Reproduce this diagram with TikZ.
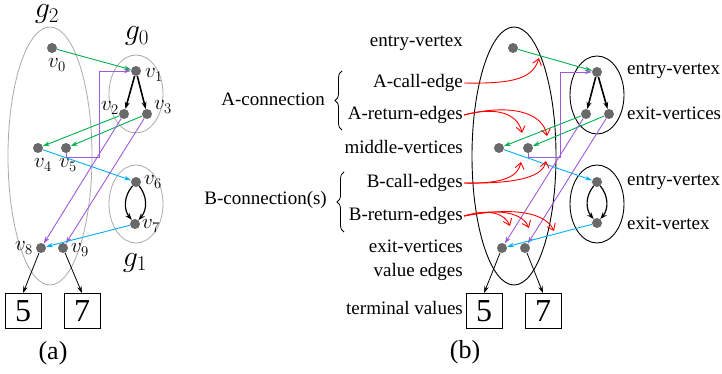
\RequirePackage{fix-cm}
\documentclass[tikz,border=0pt]{standalone}
\usepackage{fontspec}
\setmainfont{Liberation Serif}
\usetikzlibrary{arrows.meta,decorations.pathreplacing}
\definecolor{cgreen}{RGB}{0,176,80}
\definecolor{ccyan}{RGB}{0,176,240}
\definecolor{cpurple}{RGB}{160,90,220}
\definecolor{cdot}{RGB}{105,105,105}
\definecolor{cgray}{RGB}{170,170,170}
\begin{document}
\begin{tikzpicture}[x=1pt,y=-1pt,
  dot/.style={circle,fill=cdot,inner sep=0pt,minimum size=10pt},
  vl/.style={font=\fontsize{21}{23}\selectfont,inner sep=0pt},
  gl/.style={font=\fontsize{30}{32}\selectfont,inner sep=0pt,anchor=base},
  lbl/.style={font=\fontsize{19}{22}\selectfont,inner sep=0pt},
  term/.style={draw,line width=0.8pt,minimum width=36pt,minimum height=35pt,inner sep=0pt,font=\fontsize{32}{34}\selectfont},
  grn/.style={draw=cgreen,line width=0.9pt,-{Stealth[length=7pt,width=4.5pt]}},
  cyn/.style={draw=ccyan,line width=0.9pt,-{Stealth[length=7pt,width=4.5pt]}},
  prp/.style={draw=cpurple,line width=0.9pt,-{Stealth[length=7pt,width=4.5pt]}},
  blk/.style={draw=black,line width=1.6pt,-{Stealth[length=7pt,width=5pt]}},
  val/.style={draw=black,line width=0.8pt,-{Stealth[length=7pt,width=4.5pt]}},
  rd/.style={draw=red,line width=0.9pt,-{Straight Barb[length=6pt,width=9pt]}},
  gell/.style={draw=cgray,line width=0.8pt},
  bell/.style={draw=black,line width=0.9pt},
  brc/.style={decorate,decoration={brace,amplitude=7pt},line width=0.8pt}
]
\useasboundingbox (0,0) rectangle (722,374);

% ---------------- (a) ----------------
\draw[gell] (50,156) ellipse [x radius=42, y radius=129];
\draw[gell] (136,94) ellipse [x radius=27, y radius=39];
\draw[gell] (136,204) ellipse [x radius=27, y radius=39];
\node[gl] (g2) at (47,18) {$g_2$};
\node[gl] (g0) at (137,40) {$g_0$};
\node[gl] (g1) at (135,266) {$g_1$};

\node[dot] (v0) at (52,48) {};
\node[dot] (v1) at (136,71) {};
\node[dot] (v2) at (124,114) {};
\node[dot] (v3) at (147,114) {};
\node[dot] (v4) at (38,148) {};
\node[dot] (v5) at (66,148) {};
\node[dot] (v6) at (136,182) {};
\node[dot] (v7) at (135,224) {};
\node[dot] (v8) at (41,248) {};
\node[dot] (v9) at (63,248) {};
\node[vl] (lv0) at (57,65) {$v_0$};
\node[vl] (lv1) at (154,75) {$v_1$};
\node[vl] (lv2) at (110,108) {$v_2$};
\node[vl] (lv3) at (163,107) {$v_3$};
\node[vl] (lv4) at (43,165) {$v_4$};
\node[vl] (lv5) at (68,165) {$v_5$};
\node[vl] (lv6) at (153,182) {$v_6$};
\node[vl] (lv7) at (151,226) {$v_7$};
\node[vl] (lv8) at (24,248) {$v_8$};
\node[vl] (lv9) at (80,250) {$v_9$};
\node[term] (t5a) at (23,311) {5};
\node[term] (t7a) at (82,311) {7};
\node[font=\fontsize{26}{28}\selectfont,inner sep=0pt] (la) at (53,353) {(a)};
\coordinate (pa1) at (99,157);

\draw[grn] (v0) -- (v1);
\draw[blk] (v1) -- (v2);
\draw[blk] (v1) -- (v3);
\draw[grn] (v2) -- (v4);
\draw[grn] (v3) -- (v5);
\draw[cyn] (v4) -- (v6);
\draw[prp] (v5) |- (pa1) |- (v1);
\draw[prp] (v2) -- (v8);
\draw[prp] (v3) -- (v9);
\draw[blk,line width=1.2pt] (v6) to[bend right=40] (v7);
\draw[blk,line width=1.2pt] (v6) to[bend left=40] (v7);
\draw[cyn] (v7) -- (v8);
\draw[val] (v8) -- (t5a.north);
\draw[val] (v9) -- (t7a.north);

% ---------------- (b) ----------------
\draw[bell] (514,156) ellipse [x radius=42, y radius=129];
\draw[bell] (597,95) ellipse [x radius=27, y radius=39];
\draw[bell] (597,204) ellipse [x radius=27, y radius=39];

\node[dot] (e0) at (513,48) {};
\node[dot] (n1) at (597,72) {};
\node[dot] (n2) at (586,114) {};
\node[dot] (n3) at (609,114) {};
\node[dot] (n4) at (499,148) {};
\node[dot] (n5) at (528,148) {};
\node[dot] (n6) at (597,182) {};
\node[dot] (n7) at (597,223) {};
\node[dot] (n8) at (502,248) {};
\node[dot] (n9) at (525,248) {};
\node[term] (t5b) at (484,311) {5};
\node[term] (t7b) at (543,311) {7};
\node[font=\fontsize{26}{28}\selectfont,inner sep=0pt] (lb) at (465,352) {(b)};

\node[lbl,anchor=east] (l1) at (463,43) {entry-vertex};
\node[lbl,anchor=east] (l2) at (463,83) {A-call-edge};
\node[lbl,anchor=east] (l3) at (463,115) {A-return-edges};
\node[lbl,anchor=east] (l4) at (463,147) {middle-vertices};
\node[lbl,anchor=east] (l5) at (463,183) {B-call-edges};
\node[lbl,anchor=east] (l6) at (463,216) {B-return-edges};
\node[lbl,anchor=east] (l7) at (463,246) {exit-vertices};
\node[lbl,anchor=east] (l8) at (463,272) {value edges};
\node[lbl,anchor=east] (l9) at (463,308) {terminal values};
\node[lbl,anchor=east] (lA) at (325,99) {A-connection};
\node[lbl,anchor=east] (lB) at (327,200) {B-connection(s)};
\node[lbl,anchor=west] (r1) at (627,71) {entry-vertex};
\node[lbl,anchor=west] (r2) at (627,113) {exit-vertices};
\node[lbl,anchor=west] (r3) at (627,182) {entry-vertex};
\node[lbl,anchor=west] (r4) at (627,223) {exit-vertex};

\coordinate (bA1) at (342,130);
\coordinate (bA2) at (342,71);
\coordinate (bB1) at (344,232);
\coordinate (bB2) at (344,172);
\draw[brc] (bA1) -- (bA2);
\draw[brc] (bB1) -- (bB2);

\coordinate (pb1) at (560,157);
\draw[grn] (e0) -- (n1);
\draw[blk] (n1) -- (n2);
\draw[blk] (n1) -- (n3);
\draw[grn] (n2) -- (n4);
\draw[grn] (n3) -- (n5);
\draw[cyn] (n4) -- (n6);
\draw[prp] (n5) |- (pb1) |- (n1);
\draw[prp] (n2) -- (n8);
\draw[prp] (n3) -- (n9);
\draw[blk,line width=1.2pt] (n6) to[bend right=40] (n7);
\draw[blk,line width=1.2pt] (n6) to[bend left=40] (n7);
\draw[cyn] (n7) -- (n8);
\draw[val] (n8) -- (t5b.north);
\draw[val] (n9) -- (t7b.north);

% red edges
\coordinate (ra1) at (539,58);
\coordinate (ra2) at (522,133);
\coordinate (ra3) at (547,136);
\coordinate (rb1) at (521,162);
\coordinate (rb2) at (546,161);
\coordinate (rb3) at (510,226);
\coordinate (rb4) at (529,228);
\coordinate (rb5) at (554,231);
\draw[rd] ([xshift=1pt]l2.east) .. controls (515,84) and (533,78) .. (ra1);
\draw[rd] ([xshift=1pt]l3.east) .. controls (497,106) and (518,114) .. (ra2);
\draw[rd] ([xshift=1pt]l3.east) .. controls (512,103) and (543,113) .. (ra3);
\draw[rd] ([xshift=1pt]l5.east) .. controls (505,184) and (518,176) .. (rb1);
\draw[rd] ([xshift=1pt]l5.east) .. controls (520,184) and (543,176) .. (rb2);
\draw[rd] ([xshift=1pt]l6.east) .. controls (490,208) and (505,214) .. (rb3);
\draw[rd] ([xshift=1pt]l6.east) .. controls (502,207) and (523,214) .. (rb4);
\draw[rd] ([xshift=1pt]l6.east) .. controls (518,206) and (546,214) .. (rb5);
\end{tikzpicture}
\end{document}
